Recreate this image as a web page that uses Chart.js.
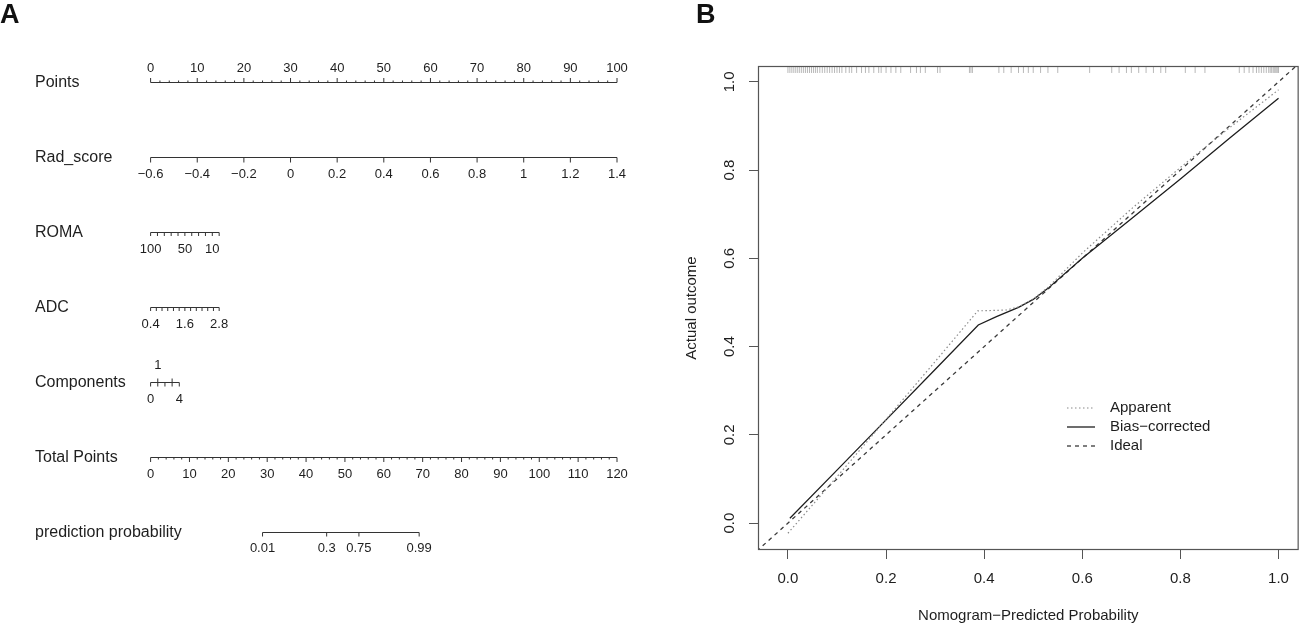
<!DOCTYPE html>
<html>
<head>
<meta charset="utf-8">
<script src="https://cdn.jsdelivr.net/npm/chart.js@4.4.1/dist/chart.umd.min.js"></script>
<style>
  html, body { margin: 0; padding: 0; background: #fff; }
  #wrap { position: relative; width: 1300px; height: 625px; overflow: hidden; font-family: "Liberation Sans", Arial, sans-serif; }
  canvas { position: absolute; top: 0; }
  #nomo { left: 0; }
  #calib { left: 650px; }
  .tag { position: absolute; top: 1px; font-weight: bold; font-size: 27px; line-height: 1; color: #111; }
</style>
</head>
<body>
<div id="wrap">
  <canvas id="nomo" width="650" height="625" style="width:650px;height:625px"></canvas>
  <canvas id="calib" width="650" height="625" style="width:650px;height:625px"></canvas>
  <div class="tag" style="left:0">A</div>
  <div class="tag" style="left:696px">B</div>
</div>
<script>
// ---- panel A: nomogram ----
const pointsTicks = [0, 10, 20, 30, 40, 50, 60, 70, 80, 90, 100];
const radScoreTicks = [-0.6, -0.4, -0.2, 0, 0.2, 0.4, 0.6, 0.8, 1, 1.2, 1.4];
const romaTicks = [100, 90, 80, 70, 60, 50, 40, 30, 20, 10, 0];
const romaLabels = [100, 50, 10];
const adcTicks = [0.4, 0.6, 0.8, 1.0, 1.2, 1.4, 1.6, 1.8, 2.0, 2.2, 2.4, 2.6, 2.8];
const adcLabels = [0.4, 1.6, 2.8];
const componentsTicks = [0, 1, 2, 3, 4];
const componentsLabelsBelow = [0, 4];
const componentsLabelsAbove = [1];
const totalPointsTicks = [0, 10, 20, 30, 40, 50, 60, 70, 80, 90, 100, 110, 120];
const probLabels = [0.01, 0.3, 0.75, 0.99];
const probTotalPoints = [28.8, 45.3, 53.6, 69.1];

// predictor value range -> points it is worth
const radRange = [-0.6, 1.4],  radPoints = [0, 100];
const romaRange = [100, 0],    romaPoints = [0, 14.7];
const adcRange = [0.4, 2.8],   adcPoints = [0, 14.7];
const compRange = [0, 4],      compPoints = [0, 6.15];
const totalRange = [0, 120];

// ---- panel B: calibration curve ----
const xTicks = [0, 0.2, 0.4, 0.6, 0.8, 1.0];
const yTicks = [0, 0.2, 0.4, 0.6, 0.8, 1.0];
const apparentX = [0.0, 0.1, 0.2, 0.3, 0.387, 0.42, 0.445, 0.47, 0.5, 0.53, 0.6, 0.7, 0.8, 0.9, 1.0];
const apparentY = [-0.023, 0.105, 0.235, 0.366, 0.481, 0.482, 0.483, 0.49, 0.508, 0.534, 0.612, 0.712, 0.806, 0.896, 0.982];
const biasX = [0.004, 0.1, 0.2, 0.3, 0.388, 0.425, 0.47, 0.5, 0.53, 0.6, 0.7, 0.8, 0.9, 1.0];
const biasY = [0.011, 0.12, 0.234, 0.348, 0.449, 0.468, 0.489, 0.507, 0.532, 0.6, 0.69, 0.78, 0.872, 0.963];
const idealX = [-0.1, 1.1];
const idealY = [-0.1, 1.1];
const rug = [0.0, 0.004, 0.008, 0.012, 0.016, 0.02, 0.024, 0.028, 0.032, 0.036, 0.04, 0.044, 0.048,
  0.052, 0.056, 0.06, 0.065, 0.07, 0.075, 0.08, 0.085, 0.09, 0.095, 0.1, 0.105, 0.11, 0.118, 0.125,
  0.13, 0.14, 0.15, 0.158, 0.165, 0.175, 0.185, 0.19, 0.2, 0.21, 0.22, 0.23, 0.25, 0.262, 0.27, 0.28,
  0.305, 0.31, 0.37, 0.373, 0.376, 0.43, 0.44, 0.455, 0.47, 0.48, 0.49, 0.5, 0.515, 0.53, 0.55, 0.615,
  0.66, 0.675, 0.69, 0.7, 0.715, 0.73, 0.745, 0.76, 0.77, 0.81, 0.83, 0.85, 0.92, 0.93, 0.94, 0.948,
  0.955, 0.96, 0.965, 0.97, 0.975, 0.98, 0.983, 0.986, 0.989, 0.991, 0.993, 0.995, 0.997, 0.999, 1.0];

const FONT = '"Liberation Sans", Arial, sans-serif';
const INK = '#333';
const TEXT = '#1e1e1e';
Chart.defaults.font.family = FONT;
Chart.defaults.color = TEXT;

// nomogram layout
const A_W = 650, A_LEFT = 150.6, A_RIGHT = 617;
const ptPx = p => A_LEFT + p * (A_RIGHT - A_LEFT) / 100;

// hidden linear scale putting v0 at px0 and v1 at px1
function pixelScale(v0, px0, v1, px1) {
  const k = (v1 - v0) / (px1 - px0);
  const a = v0 - px0 * k, b = v0 + (A_W - px0) * k;
  return { type: 'linear', axis: 'x', display: false, min: Math.min(a, b), max: Math.max(a, b), reverse: k < 0 };
}
function varScale(range, pts) {
  return pixelScale(range[0], ptPx(pts[0]), range[1], ptPx(pts[1]));
}

function axisLine(id, from, to, y) {
  return { type: 'line', xAxisID: id, yAxisID: 'y', data: [{x: from, y: y}, {x: to, y: y}],
    borderColor: INK, borderWidth: 1, pointRadius: 0, fill: false };
}
function tickMarks(id, values, y, len, dir) {
  return { type: 'scatter', xAxisID: id, yAxisID: 'y', data: values.map(v => ({x: v, y: y + dir * len / 2})),
    pointStyle: 'line', pointRotation: 90, pointRadius: len / 2, pointHoverRadius: len / 2,
    pointBorderColor: INK, pointBackgroundColor: INK, pointBorderWidth: 1 };
}
function minorOf(major, step) {
  const out = [];
  for (let v = major[0]; v < major[major.length - 1]; v += step) {
    const r = Math.round(v * 100) / 100;
    if (!major.includes(r)) out.push(r);
  }
  return out;
}
const fmt = v => String(v).replace('-', '\u2212');

const ROW = { pts: 82.5, rad: 157.5, roma: 232.5, adc: 307.5, comp: 382.5, tot: 457.5, prob: 532.5 };
const rowNames = [
  ['Points', ROW.pts], ['Rad_score', ROW.rad], ['ROMA', ROW.roma], ['ADC', ROW.adc],
  ['Components', ROW.comp], ['Total Points', ROW.tot], ['prediction probability', ROW.prob]
];
const tickText = [];
pointsTicks.forEach(v => tickText.push({scale: 'x', v: v, t: fmt(v), y: ROW.pts - 14.5}));
radScoreTicks.forEach(v => tickText.push({scale: 'xRad', v: v, t: fmt(v), y: ROW.rad + 16.5}));
romaLabels.forEach(v => tickText.push({scale: 'xRoma', v: v, t: fmt(v), y: ROW.roma + 17}));
adcLabels.forEach(v => tickText.push({scale: 'xAdc', v: v, t: v.toFixed(1), y: ROW.adc + 17}));
componentsLabelsBelow.forEach(v => tickText.push({scale: 'xComp', v: v, t: fmt(v), y: ROW.comp + 17}));
componentsLabelsAbove.forEach(v => tickText.push({scale: 'xComp', v: v, t: fmt(v), y: ROW.comp - 17}));
totalPointsTicks.forEach(v => tickText.push({scale: 'xTot', v: v, t: fmt(v), y: ROW.tot + 16.5}));
probLabels.forEach((p, i) => tickText.push({scale: 'xTot', v: probTotalPoints[i], t: fmt(p), y: ROW.prob + 16}));

const nomoText = {
  id: 'nomoText',
  afterDatasetsDraw(chart) {
    const ctx = chart.ctx;
    ctx.save();
    ctx.fillStyle = TEXT;
    ctx.textBaseline = 'middle';
    ctx.textAlign = 'left';
    ctx.font = '16px ' + FONT;
    rowNames.forEach(r => ctx.fillText(r[0], 35, r[1]));
    ctx.textAlign = 'center';
    ctx.font = '13px ' + FONT;
    tickText.forEach(l => ctx.fillText(l.t, chart.scales[l.scale].getPixelForValue(l.v), l.y));
    ctx.restore();
  }
};

new Chart(document.getElementById('nomo'), {
  type: 'scatter',
  data: {
    datasets: [
      axisLine('x', 0, 100, ROW.pts),
      tickMarks('x', pointsTicks, ROW.pts, 4.5, -1),
      tickMarks('x', minorOf(pointsTicks, 2), ROW.pts, 2, -1),
      axisLine('xRad', radRange[0], radRange[1], ROW.rad),
      tickMarks('xRad', radScoreTicks, ROW.rad, 5, 1),
      axisLine('xRoma', romaRange[0], romaRange[1], ROW.roma),
      tickMarks('xRoma', romaTicks, ROW.roma, 3.5, 1),
      axisLine('xAdc', adcRange[0], adcRange[1], ROW.adc),
      tickMarks('xAdc', adcTicks, ROW.adc, 3.5, 1),
      axisLine('xComp', compRange[0], compRange[1], ROW.comp),
      tickMarks('xComp', componentsTicks, ROW.comp, 4, 1),
      tickMarks('xComp', [1, 3], ROW.comp, 4, -1),
      axisLine('xTot', totalRange[0], totalRange[1], ROW.tot),
      tickMarks('xTot', totalPointsTicks, ROW.tot, 4.5, 1),
      tickMarks('xTot', minorOf(totalPointsTicks, 2), ROW.tot, 2, 1),
      axisLine('xTot', probTotalPoints[0], probTotalPoints[probTotalPoints.length - 1], ROW.prob),
      tickMarks('xTot', probTotalPoints, ROW.prob, 4, 1)
    ]
  },
  options: {
    responsive: false,
    animation: false,
    events: [],
    layout: { padding: 0, autoPadding: false },
    plugins: { legend: { display: false }, tooltip: { enabled: false } },
    scales: {
      y: { type: 'linear', display: false, min: 0, max: 625, reverse: true },
      x: pixelScale(0, A_LEFT, 100, A_RIGHT),
      xRad: varScale(radRange, radPoints),
      xRoma: varScale(romaRange, romaPoints),
      xAdc: varScale(adcRange, adcPoints),
      xComp: varScale(compRange, compPoints),
      xTot: pixelScale(totalRange[0], A_LEFT, totalRange[1], A_RIGHT)
    }
  },
  plugins: [nomoText]
});

// ---- panel B ----
const toXY = (xs, ys) => xs.map((x, i) => ({x: x, y: ys[i]}));

const calibExtras = {
  id: 'calibExtras',
  afterDraw(chart) {
    const {ctx, chartArea: a, scales} = chart;
    ctx.save();
    ctx.strokeStyle = '#555';
    ctx.lineWidth = 1.2;
    ctx.strokeRect(a.left + 0.5, a.top + 0.5, a.right - a.left - 1, a.bottom - a.top - 1);
    // y tick labels read bottom-to-top, like R
    ctx.fillStyle = TEXT;
    ctx.font = '15px ' + FONT;
    ctx.textAlign = 'center';
    ctx.textBaseline = 'middle';
    scales.y.ticks.forEach(t => {
      ctx.save();
      ctx.translate(80, scales.y.getPixelForValue(t.value));
      ctx.rotate(-Math.PI / 2);
      ctx.fillText(t.value.toFixed(1), 0, 0);
      ctx.restore();
    });
    // legend
    const rows = [408, 427, 446];
    chart.data.datasets.slice(1).forEach((ds, i) => {
      ctx.strokeStyle = ds.borderColor;
      ctx.lineWidth = ds.borderWidth;
      ctx.setLineDash(ds.borderDash || []);
      ctx.beginPath();
      ctx.moveTo(417, rows[i]);
      ctx.lineTo(445, rows[i]);
      ctx.stroke();
      ctx.setLineDash([]);
      ctx.textAlign = 'left';
      ctx.fillText(ds.label, 460, rows[i]);
    });
    ctx.restore();
  }
};

new Chart(document.getElementById('calib'), {
  type: 'scatter',
  data: {
    datasets: [
      { label: 'rug', type: 'scatter', data: rug.map(v => ({x: v, y: 1.027})),
        pointStyle: 'line', pointRotation: 90, pointRadius: 3, pointHoverRadius: 3,
        pointBorderColor: '#b8b8b8', pointBackgroundColor: '#b8b8b8', pointBorderWidth: 1 },
      { label: 'Apparent', type: 'line', data: toXY(apparentX, apparentY), borderColor: '#8a8a8a',
        borderWidth: 1.2, borderDash: [1.5, 2.5], pointRadius: 0, tension: 0, fill: false },
      { label: 'Bias\u2212corrected', type: 'line', data: toXY(biasX, biasY), borderColor: '#1e1e1e',
        borderWidth: 1.3, pointRadius: 0, tension: 0, fill: false },
      { label: 'Ideal', type: 'line', data: toXY(idealX, idealY), borderColor: '#3a3a3a',
        borderWidth: 1.3, borderDash: [4, 4], pointRadius: 0, tension: 0, fill: false }
    ]
  },
  options: {
    responsive: false,
    animation: false,
    events: [],
    layout: { padding: { left: 0, top: 66, right: 1, bottom: 0 }, autoPadding: false },
    plugins: { legend: { display: false }, tooltip: { enabled: false } },
    scales: {
      x: {
        type: 'linear', min: -0.061, max: 1.041,
        afterBuildTicks: s => { s.ticks = xTicks.map(v => ({value: v})); },
        afterFit: s => { s.height = 75; },
        border: { display: false },
        grid: { drawOnChartArea: false, drawTicks: true, tickLength: 9, color: '#555', tickColor: '#555' },
        ticks: { font: { size: 15 }, color: TEXT, padding: 11, maxRotation: 0, callback: v => v.toFixed(1) },
        title: { display: true, text: 'Nomogram\u2212Predicted Probability', font: { size: 15 }, color: TEXT,
          padding: { top: 0, bottom: 0 } }
      },
      y: {
        type: 'linear', min: -0.061, max: 1.036,
        afterBuildTicks: s => { s.ticks = yTicks.map(v => ({value: v})); },
        afterFit: s => { s.width = 108; },
        border: { display: false },
        grid: { drawOnChartArea: false, drawTicks: true, tickLength: 9, color: '#555', tickColor: '#555' },
        ticks: { display: false },
        title: { display: true, text: 'Actual outcome', font: { size: 15 }, color: TEXT,
          padding: { top: 33, bottom: 0 } }
      }
    }
  },
  plugins: [calibExtras]
});
</script>
</body>
</html>
